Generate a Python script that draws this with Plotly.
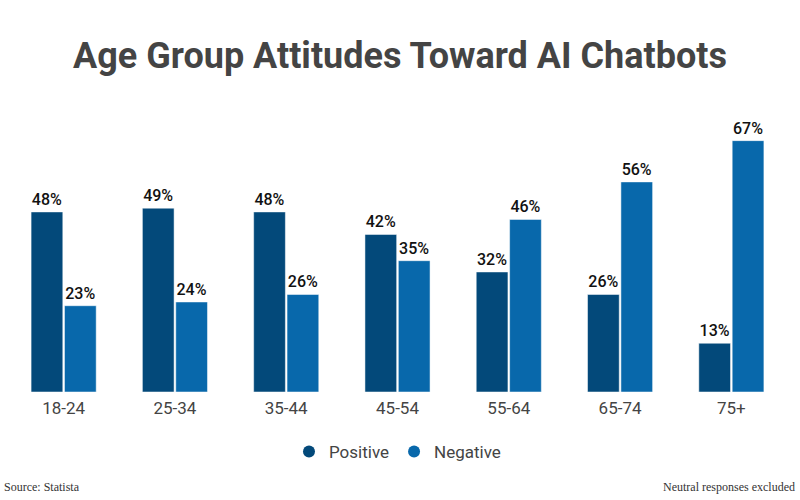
import plotly.graph_objects as go

# data
age_groups = ["18-24", "25-34", "35-44", "45-54", "55-64", "65-74", "75+"]
positive = [48, 49, 48, 42, 32, 26, 13]
negative = [23, 24, 26, 35, 46, 56, 67]

pos_color = "#03497a"
neg_color = "#0868ab"

fig = go.Figure()

# one trace per attitude
for name, vals, col in [("Positive", positive, pos_color), ("Negative", negative, neg_color)]:
    fig.add_trace(go.Bar(
        x=age_groups, y=vals, name=name, showlegend=False,
        marker=dict(color=col, line=dict(color="white", width=0.5)),
        text=[f"{v}%" for v in vals], textposition="outside",
        textfont=dict(family="Roboto", size=16, color="#111111", weight=500),
        cliponaxis=False,
    ))
    # round legend markers like the reference
    fig.add_trace(go.Scatter(
        x=[None], y=[None], mode="markers", name=name,
        marker=dict(color=col, size=17, symbol="circle"),
    ))

fig.update_layout(
    width=800, height=500,
    paper_bgcolor="white", plot_bgcolor="white",
    title=dict(text="<b>Age Group Attitudes Toward AI Chatbots</b>", x=0.5, y=0.89,
               xanchor="center", yanchor="middle",
               font=dict(family="Roboto", size=36, color="#444444")),
    barmode="group", bargap=0.4, bargroupgap=0.05,
    margin=dict(l=8, r=13, t=120, b=108),
    font=dict(family="Roboto"),
    legend=dict(orientation="h", x=0.5, xanchor="center", y=-0.22, yanchor="middle",
                font=dict(size=17, color="#444444"), itemsizing="constant"),
    showlegend=True,
)

fig.update_xaxes(showgrid=False, showline=False, ticks="", ticklabelstandoff=4,
                 tickfont=dict(family="Roboto", size=17, color="#444444"))
fig.update_yaxes(range=[0, 72.5], visible=False, showgrid=False)

# footer notes
fig.add_annotation(text="Source: Statista", xref="paper", yref="paper", x=0, y=0,
                   xshift=-6, yshift=-95, xanchor="left", yanchor="middle", showarrow=False,
                   font=dict(family="Liberation Serif", size=12, color="#333333"))
fig.add_annotation(text="Neutral responses excluded", xref="paper", yref="paper", x=1, y=0,
                   xshift=10, yshift=-95, xanchor="right", yanchor="middle", showarrow=False,
                   font=dict(family="Liberation Serif", size=12, color="#333333"))

fig.write_html("out.html", config={"displayModeBar": False},
               post_script="document.body.style.margin='0';")
